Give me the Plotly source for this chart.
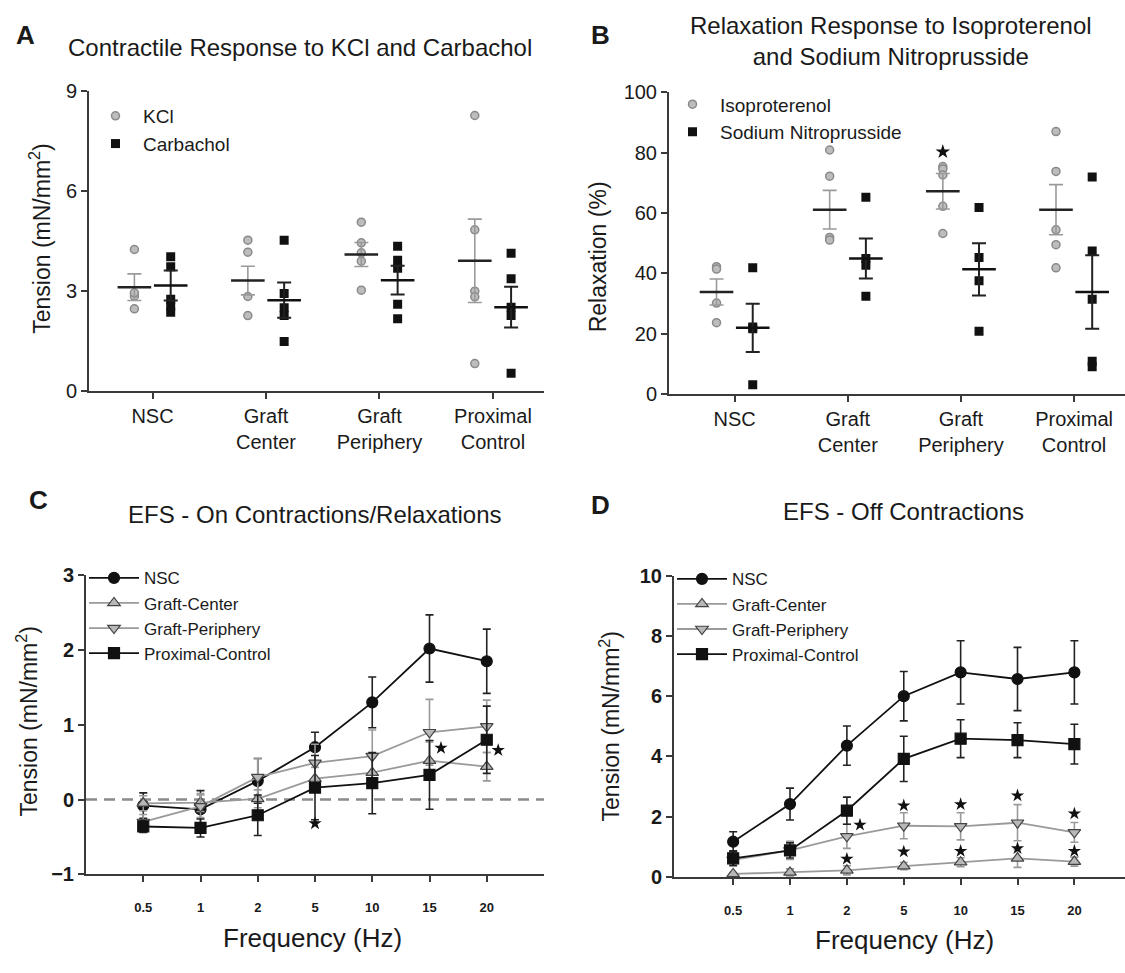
import plotly.graph_objects as go

W, H = 1125, 973
FONT = "Liberation Sans, Arial, sans-serif"
TXT = "#1a1a1a"
AX = "#3a3a3a"
GRAY_FILL = "#bdbdbd"
GRAY_EDGE = "#8a8a8a"
GRAY_LINE = "#9a9a9a"
BLACK = "#111111"

# ---------------- data ----------------
groups = ["NSC", "Graft<br>Center", "Graft<br>Periphery", "Proximal<br>Control"]

kcl_points = [[4.25, 2.47, 2.85, 2.95],
              [4.53, 4.17, 2.84, 2.27],
              [5.07, 4.45, 4.15, 3.90, 3.03],
              [8.27, 4.84, 3.00, 2.83, 0.83]]
kcl_mean = [3.12, 3.32, 4.10, 3.91]
kcl_sem = [0.40, 0.43, 0.36, 1.25]

carb_points = [[4.03, 3.73, 2.76, 2.55, 2.37],
               [4.53, 2.93, 2.50, 2.27, 1.49],
               [4.35, 3.93, 3.69, 2.61, 2.17],
               [4.14, 3.37, 2.52, 2.27, 0.54]]
carb_mean = [3.17, 2.73, 3.33, 2.52]
carb_sem = [0.45, 0.53, 0.43, 0.61]

iso_points = [[42.2, 41.4, 30.1, 23.6],
              [80.9, 72.2, 51.9, 51.0],
              [75.4, 74.6, 72.6, 62.2, 53.2],
              [87.0, 73.8, 54.4, 49.5, 41.8]]
iso_mean = [33.8, 61.1, 67.2, 61.1]
iso_sem = [4.3, 6.4, 5.9, 8.3]

snp_points = [[41.8, 22.2, 21.6, 3.0],
              [65.2, 44.9, 42.7, 32.4],
              [61.8, 45.2, 37.5, 20.8],
              [71.9, 47.4, 31.4, 10.8, 9.0]]
snp_mean = [21.9, 44.9, 41.3, 33.8]
snp_sem = [8.0, 6.6, 8.7, 12.2]

b_star_group = [3]
b_star_y = [80.3]

freq_labels = ["0.5", "1", "2", "5", "10", "15", "20"]
series_names = ["NSC", "Graft-Center", "Graft-Periphery", "Proximal-Control"]

on_mean = {
    "NSC": [-0.08, -0.13, 0.25, 0.70, 1.30, 2.02, 1.85],
    "Graft-Center": [-0.05, -0.04, 0.01, 0.28, 0.36, 0.52, 0.44],
    "Graft-Periphery": [-0.30, -0.09, 0.30, 0.49, 0.58, 0.90, 0.98],
    "Proximal-Control": [-0.36, -0.38, -0.21, 0.16, 0.22, 0.33, 0.80],
}
on_sem = {
    "NSC": [0.17, 0.25, 0.30, 0.20, 0.34, 0.45, 0.43],
    "Graft-Center": [0.10, 0.12, 0.12, 0.15, 0.20, 0.25, 0.19],
    "Graft-Periphery": [0.10, 0.15, 0.25, 0.25, 0.35, 0.44, 0.35],
    "Proximal-Control": [0.08, 0.12, 0.27, 0.43, 0.41, 0.46, 0.45],
}
on_star_x = [3, 5.2, 6.2]
on_star_y = [-0.32, 0.69, 0.66]

off_mean = {
    "NSC": [1.17, 2.42, 4.36, 6.00, 6.79, 6.57, 6.79],
    "Graft-Center": [0.10, 0.15, 0.22, 0.36, 0.49, 0.62, 0.51],
    "Graft-Periphery": [0.57, 0.88, 1.35, 1.70, 1.68, 1.80, 1.48],
    "Proximal-Control": [0.62, 0.88, 2.20, 3.92, 4.59, 4.54, 4.41],
}
off_sem = {
    "NSC": [0.33, 0.53, 0.65, 0.82, 1.05, 1.05, 1.05],
    "Graft-Center": [0.05, 0.12, 0.15, 0.12, 0.15, 0.30, 0.15],
    "Graft-Periphery": [0.15, 0.30, 0.40, 0.43, 0.45, 0.60, 0.33],
    "Proximal-Control": [0.25, 0.25, 0.45, 0.75, 0.63, 0.58, 0.66],
}
off_star_x = [2.23, 3, 4, 5, 6, 2, 3, 4, 5, 6]
off_star_y = [1.73, 2.37, 2.41, 2.70, 2.10, 0.60, 0.84, 0.86, 0.95, 0.86]

# ---------------- helpers ----------------
def dx(a, b):
    return [a / W, b / W]

def dy(top, bottom):
    return [1 - bottom / H, 1 - top / H]

def px(x):
    return x / W

def py(y):
    return 1 - y / H

fig = go.Figure()
OFF = 0.16

def dot_panel(xa, ya, pts_a, mean_a, sem_a, name_a, pts_b, mean_b, sem_b, name_b, legend):
    xs = [i + 1 - OFF for i, g in enumerate(pts_a) for _ in g]
    ys = [v for g in pts_a for v in g]
    fig.add_trace(go.Scatter(x=xs, y=ys, mode="markers", name=name_a, xaxis=xa, yaxis=ya,
                             legend=legend,
                             marker=dict(symbol="circle", size=8, color=GRAY_FILL,
                                         line=dict(color=GRAY_EDGE, width=1.5))))
    xs = [i + 1 + OFF for i, g in enumerate(pts_b) for _ in g]
    ys = [v for g in pts_b for v in g]
    fig.add_trace(go.Scatter(x=xs, y=ys, mode="markers", name=name_b, xaxis=xa, yaxis=ya,
                             legend=legend,
                             marker=dict(symbol="square", size=9, color=BLACK,
                                         line=dict(color=BLACK, width=0))))
    fig.add_trace(go.Scatter(x=[i + 1 - OFF for i in range(len(mean_a))], y=mean_a,
                             mode="markers", xaxis=xa, yaxis=ya, showlegend=False,
                             marker=dict(symbol="line-ew", size=24,
                                         line=dict(color="#222222", width=2.5)),
                             error_y=dict(type="data", array=sem_a, color="#9a9a9a",
                                          thickness=1.6, width=7)))
    fig.add_trace(go.Scatter(x=[i + 1 + OFF for i in range(len(mean_b))], y=mean_b,
                             mode="markers", xaxis=xa, yaxis=ya, showlegend=False,
                             marker=dict(symbol="line-ew", size=24,
                                         line=dict(color="#111111", width=2.5)),
                             error_y=dict(type="data", array=sem_b, color="#222222",
                                          thickness=2, width=7)))

dot_panel("x", "y", kcl_points, kcl_mean, kcl_sem, "KCl",
          carb_points, carb_mean, carb_sem, "Carbachol", "legend")
dot_panel("x2", "y2", iso_points, iso_mean, iso_sem, "Isoproterenol",
          snp_points, snp_mean, snp_sem, "Sodium Nitroprusside", "legend2")

fig.add_trace(go.Scatter(x=[g - OFF for g in b_star_group], y=b_star_y, mode="markers",
                         xaxis="x2", yaxis="y2", showlegend=False,
                         marker=dict(symbol="star", size=11, color=BLACK)))

styles = {
    "NSC": dict(line=BLACK, sym="circle", fill=BLACK, edge=BLACK, err="#222222"),
    "Graft-Center": dict(line=GRAY_LINE, sym="triangle-up", fill="#b8b8b8", edge="#444444", err="#9a9a9a"),
    "Graft-Periphery": dict(line=GRAY_LINE, sym="triangle-down", fill="#b8b8b8", edge="#444444", err="#9a9a9a"),
    "Proximal-Control": dict(line=BLACK, sym="square", fill=BLACK, edge=BLACK, err="#222222"),
}

def efs_panel(xa, ya, means, sems, legend, stx, sty):
    idx = list(range(len(freq_labels)))
    for nm in series_names:
        s = styles[nm]
        fig.add_trace(go.Scatter(
            x=idx, y=means[nm], mode="lines+markers", name=nm, xaxis=xa, yaxis=ya,
            legend=legend,
            line=dict(color=s["line"], width=1.8),
            marker=dict(symbol=s["sym"], size=11, color=s["fill"],
                        line=dict(color=s["edge"], width=1.2)),
            error_y=dict(type="data", array=sems[nm], color=s["err"], thickness=1.6, width=4)))
    fig.add_trace(go.Scatter(x=stx, y=sty, mode="markers", xaxis=xa, yaxis=ya,
                             showlegend=False,
                             marker=dict(symbol="star", size=10, color=BLACK)))

efs_panel("x3", "y3", on_mean, on_sem, "legend3", on_star_x, on_star_y)
efs_panel("x4", "y4", off_mean, off_sem, "legend4", off_star_x, off_star_y)

fig.add_shape(type="line", xref="x3 domain", x0=0, x1=1, yref="y3", y0=0, y1=0,
              line=dict(color="#8a8a8a", width=2.5, dash="11px,7px"), layer="below")

# ---------------- axes ----------------
def axis_common():
    return dict(showline=True, linecolor=AX, linewidth=2, showgrid=False, zeroline=False,
                ticks="outside", ticklen=6, tickwidth=1.5, tickcolor=AX)

tick_reg = dict(family=FONT, size=20, color=TXT)
tick_bold = dict(family=FONT, size=20, color=TXT, weight="bold")
tick_small = dict(family=FONT, size=13, color=TXT, weight="bold")

fig.update_layout(
    xaxis=dict(domain=dx(89, 544), range=[0.44, 4.45], anchor="y",
               tickvals=[1, 2, 3, 4], ticktext=groups, tickfont=tick_reg, **axis_common()),
    yaxis=dict(domain=dy(82, 389), range=[0, 9], anchor="x",
               tickvals=[0, 3, 6, 9], tickfont=tick_reg, **axis_common()),
    xaxis2=dict(domain=dx(669, 1125), range=[0.42, 4.45], anchor="y2",
                tickvals=[1, 2, 3, 4], ticktext=groups, tickfont=tick_reg, **axis_common()),
    yaxis2=dict(domain=dy(83.3, 391.7), range=[0, 100], anchor="x2",
                tickvals=[0, 20, 40, 60, 80, 100], tickfont=tick_reg, **axis_common()),
    xaxis3=dict(domain=dx(86, 544), range=[-1.0, 7.0], anchor="y3",
                tickvals=list(range(len(freq_labels))), ticktext=freq_labels,
                tickfont=tick_small, ticklabelstandoff=14, **axis_common()),
    yaxis3=dict(domain=dy(577.3, 883.3), range=[-1, 3], anchor="x3",
                tickvals=[-1, 0, 1, 2, 3], tickfont=tick_bold, **axis_common()),
    xaxis4=dict(domain=dx(674, 1125), range=[-1.04, 6.89], anchor="y4",
                tickvals=list(range(len(freq_labels))), ticktext=freq_labels,
                tickfont=tick_small, ticklabelstandoff=14, **axis_common()),
    yaxis4=dict(domain=dy(577.7, 886), range=[0, 10], anchor="x4",
                tickvals=[0, 2, 4, 6, 8, 10], tickfont=tick_bold, **axis_common()),
)

leg_ab = dict(bgcolor="rgba(0,0,0,0)", borderwidth=0, xanchor="left", yanchor="top",
              tracegroupgap=0, itemwidth=45, font=dict(family=FONT, size=19, color=TXT))
leg_cd = dict(bgcolor="rgba(0,0,0,0)", borderwidth=0, xanchor="left", yanchor="top",
              tracegroupgap=0, itemwidth=50, font=dict(family=FONT, size=17, color=TXT))
fig.update_layout(
    legend=dict(x=px(88), y=py(88), **leg_ab),
    legend2=dict(x=px(665), y=py(76), **leg_ab),
    legend3=dict(x=px(84), y=py(562), **leg_cd),
    legend4=dict(x=px(672), y=py(563), **leg_cd),
)

# ---------------- text ----------------
def ann(text, x, y, size, bold=False, angle=0):
    fig.add_annotation(text=text, x=px(x), y=py(y), xref="paper", yref="paper",
                       showarrow=False, textangle=angle, xanchor="center", yanchor="middle",
                       font=dict(family=FONT, size=size, color=TXT,
                                 weight="bold" if bold else "normal"))

ann("A", 25, 25, 26, bold=True)
ann("B", 600, 25, 26, bold=True)
ann("C", 38, 500, 26, bold=True)
ann("D", 600, 505, 26, bold=True)

ann("Contractile Response to KCl and Carbachol", 300, 37, 24)
ann("Relaxation Response to Isoproterenol<br>and Sodium Nitroprusside", 891, 31, 24)
ann("EFS - On Contractions/Relaxations", 315, 515, 24)
ann("EFS - Off Contractions", 903, 512, 24)

ann("Tension (mN/mm<sup>2</sup>)", 40, 233, 23, angle=-90)
ann("Relaxation (%)", 598, 252, 23, angle=-90)
ann("Tension (mN/mm<sup>2</sup>)", 27, 727, 23, angle=-90)
ann("Tension (mN/mm<sup>2</sup>)", 610, 732, 23, angle=-90)
ann("Frequency (Hz)", 312, 948, 26)
ann("Frequency (Hz)", 904, 950, 26)

fig.update_layout(width=W, height=H, margin=dict(l=0, r=0, t=0, b=0),
                  paper_bgcolor="white", plot_bgcolor="white", showlegend=True,
                  font=dict(family=FONT, color=TXT))

fig.write_html("out.html", config={"displayModeBar": False},
               post_script="document.body.style.margin='0';")
